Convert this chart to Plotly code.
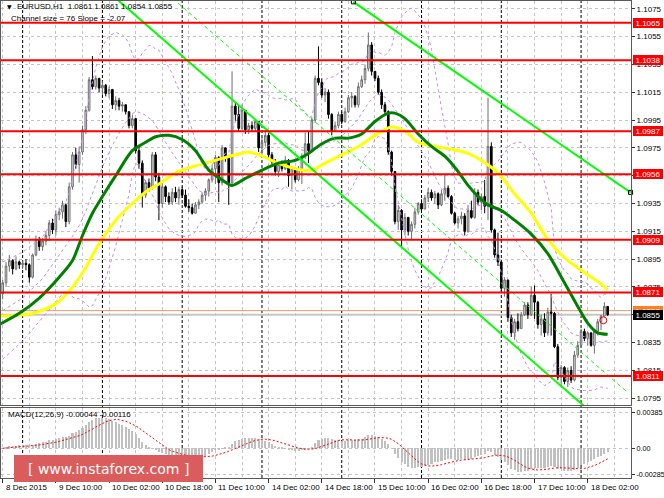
import math
import plotly.graph_objects as go

# ---------------- data ----------------
first_open = 1.0870
close = [
    1.0878, 1.0890, 1.0894, 1.0888, 1.0893, 1.0891, 1.0892, 1.0891, 1.0882, 1.0898,
    1.0909, 1.0904, 1.0908, 1.0912, 1.0921, 1.0916, 1.0927, 1.0929, 1.0934, 1.0922,
    1.0947, 1.0970, 1.0963, 1.0972, 1.0988, 1.1002, 1.1024, 1.1019, 1.1025, 1.1018,
    1.1020, 1.1014, 1.1017, 1.1006, 1.1009, 1.1005, 1.1006, 1.1001, 1.0991, 1.0996,
    1.0973, 1.0964, 1.0941, 1.0950, 1.0946, 1.0970, 1.0954, 1.0935, 1.0947, 1.0940,
    1.0936, 1.0943, 1.0939, 1.0945, 1.0941, 1.0933, 1.0932, 1.0928, 1.0934, 1.0936,
    1.0941, 1.0944, 1.0952, 1.0960, 1.0968, 1.0950, 1.0975, 1.0969, 1.0950, 1.1005,
    1.0999, 1.0989, 1.1002, 1.0988, 1.0991, 1.0989, 1.0994, 1.0975, 1.0979, 1.0984,
    1.0970, 1.0965, 1.0958, 1.0963, 1.0960, 1.0966, 1.0955, 1.0960, 1.0952, 1.0960,
    1.0969, 1.0978, 1.0973, 1.0995, 1.1025, 1.1022, 1.1013, 1.1015, 1.0999, 1.0987,
    1.0991, 1.0999, 1.0994, 1.1001, 1.1011, 1.1012, 1.1006, 1.1019, 1.1024, 1.1032,
    1.1049, 1.1030, 1.1025, 1.1015, 1.1006, 1.1001, 1.0972, 1.0958, 1.0922, 1.0930,
    1.0916, 1.0925, 1.0915, 1.0920, 1.0929, 1.0935, 1.0931, 1.0939, 1.0943, 1.0939,
    1.0942, 1.0934, 1.0942, 1.0946, 1.0940, 1.0928, 1.0921, 1.0924, 1.0926, 1.0915,
    1.0930, 1.0925, 1.0943, 1.0936, 1.0940, 1.0933, 1.0976, 1.0916, 1.0898, 1.0893,
    1.0874, 1.0880, 1.0853, 1.0842, 1.0850, 1.0845, 1.0855, 1.0862, 1.0855, 1.0869,
    1.0864, 1.0848, 1.0852, 1.0842, 1.0857, 1.0856, 1.0832, 1.0810, 1.0817, 1.0807,
    1.0815, 1.0808, 1.0826, 1.0833, 1.0843, 1.0838, 1.0842, 1.0833, 1.0843, 1.0850,
    1.0854, 1.0861, 1.0855]
high = [
    1.0880, 1.0893, 1.0898, 1.0895, 1.0897, 1.0894, 1.0894, 1.0895, 1.0892, 1.0899,
    1.0912, 1.0911, 1.0910, 1.0915, 1.0923, 1.0924, 1.0930, 1.0932, 1.0937, 1.0935,
    1.0950, 1.0972, 1.0975, 1.0976, 1.0991, 1.1005, 1.1026, 1.1041, 1.1027, 1.1025,
    1.1023, 1.1021, 1.1019, 1.1017, 1.1012, 1.1011, 1.1008, 1.1006, 1.1001, 1.0999,
    1.0996, 1.0977, 1.0966, 1.0952, 1.0953, 1.0972, 1.0972, 1.0957, 1.0951, 1.0948,
    1.0943, 1.0946, 1.0947, 1.0947, 1.0947, 1.0945, 1.0938, 1.0935, 1.0936, 1.0938,
    1.0943, 1.0946, 1.0953, 1.0963, 1.0970, 1.0969, 1.0977, 1.0974, 1.0970, 1.1030,
    1.1008, 1.1005, 1.1006, 1.0996, 1.0993, 1.0994, 1.0996, 1.0994, 1.0983, 1.0988,
    1.0986, 1.0972, 1.0967, 1.0965, 1.0966, 1.0969, 1.0967, 1.0962, 1.0961, 1.0962,
    1.0971, 1.0986, 1.0987, 1.0997, 1.1027, 1.1048, 1.1025, 1.1018, 1.1017, 1.1000,
    1.0994, 1.1001, 1.1001, 1.1004, 1.1013, 1.1015, 1.1013, 1.1022, 1.1027, 1.1035,
    1.1058, 1.1051, 1.1030, 1.1027, 1.1017, 1.1008, 1.1002, 1.0973, 1.0958, 1.0934,
    1.0931, 1.0928, 1.0925, 1.0922, 1.0932, 1.0936, 1.0938, 1.0941, 1.0946, 1.0945,
    1.0944, 1.0943, 1.0945, 1.0956, 1.0948, 1.0941, 1.0929, 1.0926, 1.0929, 1.0928,
    1.0934, 1.0937, 1.0946, 1.0945, 1.0942, 1.0952, 1.1011, 1.0979, 1.0917, 1.0914,
    1.0893, 1.0882, 1.0880, 1.0855, 1.0852, 1.0856, 1.0857, 1.0864, 1.0864, 1.0875,
    1.0876, 1.0865, 1.0855, 1.0856, 1.0860, 1.0870, 1.0857, 1.0834, 1.0819, 1.0818,
    1.0817, 1.0818, 1.0829, 1.0836, 1.0845, 1.0845, 1.0843, 1.0841, 1.0844, 1.0852,
    1.0855, 1.0864, 1.0861]
low = [
    1.0866, 1.0875, 1.0886, 1.0884, 1.0887, 1.0888, 1.0888, 1.0887, 1.0878, 1.0881,
    1.0897, 1.0901, 1.0901, 1.0905, 1.0908, 1.0913, 1.0912, 1.0923, 1.0924, 1.0918,
    1.0920, 1.0945, 1.0960, 1.0950, 1.0970, 1.0985, 1.1001, 1.1017, 1.1017, 1.1015,
    1.1013, 1.1012, 1.1011, 1.1003, 1.1002, 1.1002, 1.1001, 1.0999, 1.0989, 1.0989,
    1.0971, 1.0960, 1.0932, 1.0939, 1.0944, 1.0945, 1.0951, 1.0923, 1.0932, 1.0936,
    1.0934, 1.0934, 1.0936, 1.0934, 1.0939, 1.0932, 1.0929, 1.0927, 1.0928, 1.0931,
    1.0935, 1.0937, 1.0940, 1.0950, 1.0949, 1.0936, 1.0948, 1.0965, 1.0934, 1.0948,
    1.0994, 1.0987, 1.0988, 1.0985, 1.0985, 1.0987, 1.0987, 1.0972, 1.0970, 1.0976,
    1.0967, 1.0963, 1.0955, 1.0954, 1.0958, 1.0959, 1.0947, 1.0945, 1.0950, 1.0951,
    1.0949, 1.0967, 1.0964, 1.0972, 1.0993, 1.1020, 1.1011, 1.1008, 1.0996, 1.0984,
    1.0987, 1.0989, 1.0992, 1.0993, 1.1000, 1.1004, 1.1004, 1.1004, 1.1018, 1.1021,
    1.1030, 1.1027, 1.1023, 1.1013, 1.1003, 1.0999, 1.0970, 1.0955, 1.0920, 1.0916,
    1.0904, 1.0912, 1.0912, 1.0909, 1.0917, 1.0927, 1.0930, 1.0931, 1.0936, 1.0937,
    1.0935, 1.0931, 1.0933, 1.0937, 1.0939, 1.0927, 1.0920, 1.0917, 1.0920, 1.0912,
    1.0914, 1.0924, 1.0924, 1.0934, 1.0930, 1.0928, 1.0923, 1.0914, 1.0896, 1.0890,
    1.0872, 1.0868, 1.0850, 1.0839, 1.0837, 1.0843, 1.0848, 1.0854, 1.0852, 1.0854,
    1.0852, 1.0845, 1.0840, 1.0839, 1.0840, 1.0840, 1.0831, 1.0808, 1.0803, 1.0805,
    1.0803, 1.0806, 1.0807, 1.0824, 1.0832, 1.0836, 1.0833, 1.0832, 1.0827, 1.0840,
    1.0844, 1.0855, 1.0854]

tick_bars = [0, 16, 32, 48, 64, 80, 96, 112, 128, 144, 160, 176]
tick_labels = ["8 Dec 2015", "9 Dec 10:00", "10 Dec 02:00", "10 Dec 18:00",
               "11 Dec 10:00", "14 Dec 02:00", "14 Dec 18:00", "15 Dec 10:00",
               "16 Dec 02:00", "16 Dec 18:00", "17 Dec 10:00", "18 Dec 02:00"]
day_separators = [6, 30, 54, 78, 102, 126, 150, 174]

price_ticks = [1.0795, 1.0815, 1.0835, 1.0855, 1.0875, 1.0895, 1.0915, 1.0935,
               1.0955, 1.0975, 1.0995, 1.1015, 1.1035, 1.1055, 1.1075]
hidden_price_ticks = [1.0855, 1.0955]   # fully covered by price boxes in the reference
macd_ticks = [0.00385, 0.0, -0.00285]
macd_tick_labels = ["0.00385", "0.00", "-0.00285"]
levels = [1.1065, 1.1038, 1.0987, 1.0956, 1.0909, 1.0871, 1.0811]
ask_price = 1.0858
bid_price = 1.0855

green_ma_bars = [-1, 5, 11, 17, 21, 24, 27, 30, 34, 39, 43, 46, 50, 54, 58, 62, 66, 69, 73, 78,
                 83, 88, 92, 96, 100, 104, 108, 112, 116, 118, 121, 125, 129, 133, 137, 140,
                 143, 146, 150, 154, 159, 164, 169, 173, 176, 179, 182]
green_ma = [1.0848, 1.0856, 1.0867, 1.0882, 1.0894, 1.0912, 1.0928, 1.0940, 1.0955, 1.0973,
            1.0979, 1.0983, 1.0984, 1.0981, 1.0973, 1.0959, 1.0952, 1.0948, 1.0953, 1.0959,
            1.0964, 1.0966, 1.0971, 1.0978, 1.0982, 1.0982, 1.0985, 1.0994, 1.1000, 1.1000,
            1.0996, 1.0985, 1.0976, 1.0969, 1.0958, 1.0948, 1.0940, 1.0934, 1.0930, 1.0923,
            1.0913, 1.0899, 1.0878, 1.0861, 1.0849, 1.0842, 1.0841]
yellow_ma_bars = [-1, 9, 16, 20, 24, 29, 34, 39, 44, 47, 52, 58, 64, 70, 74, 78, 83, 88, 93, 97,
                  102, 107, 112, 117, 121, 125, 130, 135, 140, 144, 149, 154, 159, 164, 169,
                  174, 179, 182]
yellow_ma = [1.0854, 1.0856, 1.0863, 1.0872, 1.0885, 1.0906, 1.0923, 1.0935, 1.0945, 1.0949,
             1.0957, 1.0962, 1.0966, 1.0970, 1.0972, 1.0969, 1.0964, 1.0960, 1.0959, 1.0964,
             1.0970, 1.0976, 1.0984, 1.0990, 1.0987, 1.0979, 1.0976, 1.0974, 1.0971, 1.0966,
             1.0957, 1.0942, 1.0928, 1.0909, 1.0896, 1.0887, 1.0879, 1.0873]
bb_early_bars = [0, 6, 12, 18]
bb_upper_early = [1.0893, 1.0900, 1.0911, 1.0932]
bb_mid_early = [1.0858, 1.0867, 1.0881, 1.0901]
bb_lower_early = [1.0823, 1.0836, 1.0853, 1.0870]

channel_lower_bars = [34.8, 189.5]
channel_lower = [1.1081, 1.0759]
channel_mid_bars = [52.8, 188.1]
channel_mid = [1.1079, 1.0799]
trend_upper_bars = [105.5, 188.9]
trend_upper = [1.1080, 1.0943]
marker_bar = [180.7]
marker_price = [1.0851]

title_text = "EURUSD,H1  1.0861 1.0861 1.0854 1.0855"
channel_text = "Channel size = 76 Slope = -2.07"
macd_text = "MACD(12,26,9) -0.00044 -0.00116"

# ---------------- derived series ----------------
n = len(close)
assert len(high) == n and len(low) == n
bar_index = list(range(n))
opens = [first_open] + close[:-1]
hi = [max(h, o, c) for h, o, c in zip(high, opens, close)]
lo = [min(l, o, c) for l, o, c in zip(low, opens, close)]

bb_bars = list(bb_early_bars)
bb_up, bb_md, bb_lo = list(bb_upper_early), list(bb_mid_early), list(bb_lower_early)
for i in range(19, n):
    w = close[i - 19:i + 1]
    m = sum(w) / 20.0
    sd = math.sqrt(sum((v - m) ** 2 for v in w) / 20.0)
    bb_bars.append(i)
    bb_md.append(m)
    bb_up.append(m + 2 * sd)
    bb_lo.append(m - 2 * sd)


def ema(vals, period):
    k = 2.0 / (period + 1)
    out = [vals[0]]
    for v in vals[1:]:
        out.append(out[-1] + k * (v - out[-1]))
    return out


e12 = ema(close, 12)
e26 = ema(close, 26)
macd = [a - b for a, b in zip(e12, e26)]
signal = []
for i in range(n):
    w = macd[max(0, i - 8):i + 1]
    signal.append(sum(w) / len(w))

# ---------------- layout helpers ----------------
W, H = 664, 498
ML, MR, MT, MB = 1, 33, 1, 20
PW, PH = W - ML - MR, H - MT - MB


def px(x):
    return (x - ML) / PW


def py(y):
    return (H - MB - y) / PH


FONT = "Liberation Sans"
GRID = "#C4C4C4"

fig = go.Figure()
fig.add_trace(go.Candlestick(
    x=bar_index, open=opens, high=hi, low=lo, close=close,
    increasing=dict(line=dict(color="#6E6E6E", width=1), fillcolor="#E4E4E4"),
    decreasing=dict(line=dict(color="#000000", width=1), fillcolor="#000000"),
    whiskerwidth=0, hoverinfo="skip", showlegend=False, xaxis="x", yaxis="y"))

for series in (bb_up, bb_md, bb_lo):
    fig.add_trace(go.Scatter(x=bb_bars, y=series, mode="lines",
                             line=dict(color="#C48CE6", width=1, dash="3px,3px"),
                             hoverinfo="skip", xaxis="x", yaxis="y"))
fig.add_trace(go.Scatter(x=yellow_ma_bars, y=yellow_ma, mode="lines",
                         line=dict(color="#FFFF00", width=3, shape="spline", smoothing=0.8),
                         hoverinfo="skip", xaxis="x", yaxis="y"))
fig.add_trace(go.Scatter(x=green_ma_bars, y=green_ma, mode="lines",
                         line=dict(color="#008000", width=3, shape="spline", smoothing=0.8),
                         hoverinfo="skip", xaxis="x", yaxis="y"))
fig.add_trace(go.Scatter(x=channel_mid_bars, y=channel_mid, mode="lines",
                         line=dict(color="#00FF00", width=1, dash="4px,3px"),
                         hoverinfo="skip", xaxis="x", yaxis="y"))
fig.add_trace(go.Scatter(x=channel_lower_bars, y=channel_lower, mode="lines",
                         line=dict(color="#00FF00", width=2),
                         hoverinfo="skip", xaxis="x", yaxis="y"))
fig.add_trace(go.Scatter(x=trend_upper_bars, y=trend_upper, mode="lines+markers",
                         line=dict(color="#00FF00", width=2),
                         marker=dict(symbol="square-open", size=4, color="#000000",
                                     line=dict(width=1, color="#000000")),
                         hoverinfo="skip", xaxis="x", yaxis="y", cliponaxis=False))
fig.add_trace(go.Scatter(x=marker_bar, y=marker_price, mode="markers",
                         marker=dict(symbol="circle-open", size=7, color="#FF0000",
                                     line=dict(width=1, color="#FF0000")),
                         hoverinfo="skip", xaxis="x", yaxis="y"))

fig.add_trace(go.Bar(x=bar_index, y=macd, width=0.62, marker=dict(color="#C0C0C0", line=dict(width=0)),
                     hoverinfo="skip", xaxis="x2", yaxis="y2"))
fig.add_trace(go.Scatter(x=bar_index, y=signal, mode="lines",
                         line=dict(color="#FF0000", width=1, dash="2px,2px"),
                         hoverinfo="skip", xaxis="x2", yaxis="y2"))

xcommon = dict(range=[-0.51, 189.02], tick0=0, dtick=16, zeroline=False,
               showline=True, linecolor="#5A5A5A", linewidth=1, mirror=True,
               showticklabels=False, showgrid=True, gridcolor=GRID, griddash="3px,3px",
               minor=dict(dtick=8, tick0=0, showgrid=True, gridcolor=GRID,
                          griddash="3px,3px", ticks=""))
ycommon = dict(side="right", tickmode="array", ticks="outside", ticklen=3,
               tickcolor="#333333", showline=True, mirror=True, linecolor="#5A5A5A",
               zeroline=False, showgrid=True, gridcolor=GRID, griddash="3px,3px",
               automargin=False)

price_tick_text = ["" if any(abs(v - h) < 1e-9 for h in hidden_price_ticks) else "%.4f" % v
                   for v in price_ticks]

fig.update_layout(
    width=W, height=H, autosize=False, margin=dict(l=ML, r=MR, t=MT, b=MB, pad=0),
    paper_bgcolor="white", plot_bgcolor="white", showlegend=False, hovermode=False,
    font=dict(family=FONT, size=8, color="#000000"), bargap=0,
    xaxis=dict(domain=[0, 1], anchor="y", ticks="", automargin=False,
               rangeslider=dict(visible=False), **xcommon),
    xaxis2=dict(domain=[0, 1], anchor="y2", matches="x", ticks="outside", ticklen=4,
                tickcolor="#333333", automargin=False, **xcommon),
    yaxis=dict(domain=[py(405), 1], range=[1.07901, 1.10806], tickvals=price_ticks,
               ticktext=price_tick_text,
               tickfont=dict(family=FONT, size=8, color="#000000"), **ycommon),
    yaxis2=dict(domain=[0, py(408)], range=[-0.00321, 0.00436],
                tickvals=macd_ticks, ticktext=macd_tick_labels,
                tickfont=dict(family=FONT, size=7.2, color="#000000"), **ycommon),
)

shapes = []
for b in day_separators:
    shapes.append(dict(type="line", xref="x", yref="paper", x0=b, x1=b, y0=0, y1=1,
                       line=dict(color="#000000", width=1, dash="3px,2px"), layer="between"))
shapes.append(dict(type="line", xref="paper", yref="y", x0=0, x1=1, y0=bid_price, y1=bid_price,
                   line=dict(color="#C8C8C8", width=2), layer="between"))
shapes.append(dict(type="line", xref="paper", yref="y", x0=0, x1=1, y0=ask_price, y1=ask_price,
                   line=dict(color="#FF9966", width=1), layer="between"))
for lv in levels:
    shapes.append(dict(type="line", xref="paper", yref="y", x0=0, x1=1, y0=lv, y1=lv,
                       line=dict(color="#FF0000", width=2), layer="above"))
shapes.append(dict(type="rect", xref="paper", yref="paper", x0=px(14), x1=px(203),
                   y0=py(482), y1=py(455), fillcolor="#DA5C5C", line=dict(width=0), layer="above"))
fig.update_layout(shapes=shapes)

ann = []
for b, t in zip(tick_bars, tick_labels):
    ann.append(dict(x=b, xref="x2", y=py(488), yref="paper", text=t, showarrow=False,
                    xanchor="left", yanchor="middle", xshift=1,
                    font=dict(family=FONT, size=8, color="#000000")))


def price_box(value, bg):
    return dict(x=1, xref="paper", xanchor="left", xshift=2, y=value, yref="y",
                yanchor="middle", text="%.4f" % value, showarrow=False,
                font=dict(family=FONT, size=8, color="#FFFFFF"), bgcolor=bg,
                width=30, height=10, borderpad=0, borderwidth=0, align="center")


for lv in levels:
    ann.append(price_box(lv, "#FF0000"))
ann.append(price_box(ask_price, "#FF7F27"))
ann.append(price_box(bid_price, "#000000"))

ann.append(dict(x=px(5), xref="paper", y=py(7), yref="paper", text="▼", showarrow=False,
                xanchor="left", yanchor="middle",
                font=dict(family="DejaVu Sans", size=6, color="#000000")))
ann.append(dict(x=px(15), xref="paper", y=py(7), yref="paper", text=title_text, showarrow=False,
                xanchor="left", yanchor="middle", font=dict(family=FONT, size=8, color="#000000")))
ann.append(dict(x=px(9), xref="paper", y=py(19), yref="paper", text=channel_text, showarrow=False,
                xanchor="left", yanchor="middle", font=dict(family=FONT, size=8, color="#000000")))
ann.append(dict(x=px(6), xref="paper", y=py(414), yref="paper", text=macd_text, showarrow=False,
                xanchor="left", yanchor="middle", font=dict(family=FONT, size=8, color="#000000")))
ann.append(dict(x=px(108.5), xref="paper", y=py(468.5), yref="paper",
                text="[ www.instaforex.com ]", showarrow=False, xanchor="center", yanchor="middle",
                font=dict(family="DejaVu Sans", size=14, color="#FFFFFF")))
fig.update_layout(annotations=ann)

fig.write_html("out.html", config={"displayModeBar": False},
               post_script="document.body.style.margin='0px';document.body.style.padding='0px';"
                           "document.body.style.overflow='hidden';")
